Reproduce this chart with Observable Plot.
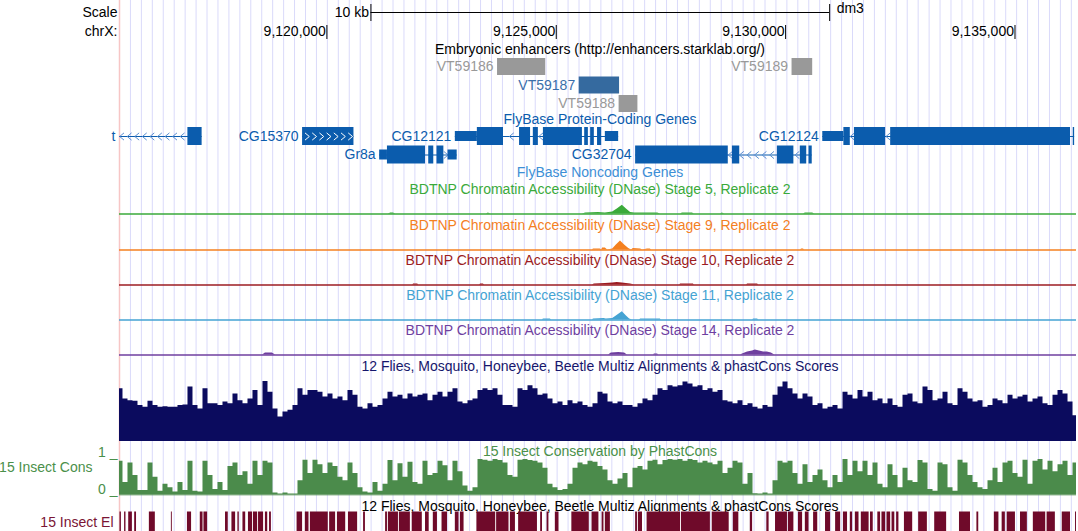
<!DOCTYPE html>
<html><head><meta charset="utf-8">
<script src="https://cdn.jsdelivr.net/npm/d3@7"></script>
<script src="https://cdn.jsdelivr.net/npm/@observablehq/plot@0.6"></script>
<style>
body{margin:0;background:#fff}
#chart{width:1078px;height:531px;overflow:hidden;background:#fff}
#chart svg{display:block}
</style></head><body><div id="chart"></div>
<script>
// ---------------- data (genomic positions in kb on chrX, dm3) ----------------
const viewKb = [9115.479, 9136.341];
const positionTicks = [9120000, 9125000, 9130000, 9135000];
const scaleBarKb = [9120.96, 9130.96];
const scaleBarLabel = "10 kb";
const assembly = "dm3";
const chromLabel = "chrX:";

const enhancerTrackTitle = "Embryonic enhancers (http://enhancers.starklab.org/)";
const enhancerNames = ["VT59186", "VT59187", "VT59188", "VT59189"];
const enhancerStartKb = [9123.72, 9125.50, 9126.37, 9130.14];
const enhancerEndKb = [9124.77, 9126.38, 9126.78, 9130.59];
const enhancerRow = [0, 1, 2, 0];
const enhancerActive = [false, true, false, false];

const geneTrackTitle = "FlyBase Protein-Coding Genes";
const noncodingTrackTitle = "FlyBase Noncoding Genes";
const geneNames = ["t", "CG15370", "CG12121", "CG12124", "Gr8a", "CG32704"];
const geneStrand = ["-", "+", "-", "-", "+", "-"];
const geneRow = [0, 0, 0, 0, 1, 1];
const geneStartKb = [9115.30, 9119.47, 9122.80, 9130.81, 9121.15, 9126.73];
const geneEndKb = [9117.28, 9120.59, 9126.36, 9136.30, 9122.84, 9130.58];
const geneInnerArrows = [false, true, false, false, false, false];
const geneExonsKb = [
  [[9116.97, 9117.28, "cds"]],
  [[9119.47, 9120.59, "cds"]],
  [[9122.80, 9123.28, "utr"], [9123.28, 9123.85, "cds"], [9124.20, 9124.44, "cds"], [9124.50, 9124.61, "cds"],
   [9124.72, 9125.57, "cds"], [9125.62, 9125.70, "cds"], [9125.75, 9125.83, "cds"], [9125.90, 9125.99, "cds"],
   [9126.07, 9126.36, "utr"]],
  [[9130.81, 9131.27, "utr"], [9131.27, 9131.41, "cds"], [9131.50, 9132.18, "cds"], [9132.29, 9136.21, "cds"],
   [9136.27, 9136.30, "cds"]],
  [[9121.15, 9121.32, "utr"], [9121.32, 9122.15, "cds"], [9122.22, 9122.33, "cds"], [9122.40, 9122.55, "cds"],
   [9122.64, 9122.84, "utr"]],
  [[9126.73, 9128.75, "cds"], [9128.84, 9129.00, "cds"], [9129.82, 9130.18, "cds"], [9130.32, 9130.46, "cds"],
   [9130.51, 9130.58, "cds"]]
];

const dnaseStages = ["Stage 5", "Stage 9", "Stage 10", "Stage 11", "Stage 14"];
const dnasePosKb = [
  [9115.48, 9121.34, 9121.39, 9121.45, 9121.50, 9123.48, 9123.52, 9123.57, 9125.57, 9125.64, 9125.92, 9126.07, 9126.23, 9126.33, 9126.44, 9126.53, 9126.62, 9126.71, 9127.21, 9127.27, 9127.71, 9127.75, 9127.97, 9128.01, 9128.58, 9128.62, 9128.67, 9130.39, 9130.43, 9130.59, 9130.63, 9136.34],
  [9115.48, 9125.79, 9125.81, 9125.96, 9125.99, 9126.01, 9126.07, 9126.12, 9126.23, 9126.31, 9126.40, 9126.49, 9126.58, 9126.64, 9126.68, 9126.84, 9126.88, 9126.99, 9127.05, 9127.08, 9130.32, 9130.35, 9130.39, 9130.41, 9136.34],
  [9115.48, 9121.87, 9121.89, 9121.98, 9122.00, 9123.33, 9123.35, 9123.41, 9123.44, 9125.79, 9125.83, 9126.07, 9126.23, 9126.33, 9126.44, 9126.62, 9126.71, 9127.69, 9127.71, 9127.99, 9128.01, 9129.15, 9129.17, 9129.39, 9129.41, 9136.34],
  [9115.48, 9124.70, 9124.72, 9124.87, 9124.90, 9125.79, 9125.81, 9126.04, 9126.09, 9126.23, 9126.31, 9126.44, 9126.53, 9126.60, 9126.66, 9126.81, 9126.84, 9127.27, 9127.29, 9129.28, 9129.30, 9129.39, 9129.41, 9136.34],
  [9115.48, 9118.60, 9118.66, 9118.81, 9118.88, 9126.14, 9126.20, 9126.36, 9126.49, 9126.55, 9127.12, 9127.14, 9127.21, 9127.23, 9129.02, 9129.06, 9129.17, 9129.28, 9129.34, 9129.43, 9129.52, 9129.60, 9129.69, 9129.76, 9136.34]
];
const dnaseSignal = [
  [0, 0, 1, 1, 0, 0, 1, 0, 0, 1, 1.5, 1, 2, 5, 8.7, 5, 1.5, 1, 1, 0, 0, 1, 1, 0, 0, 1, 0, 0, 1, 1, 0, 0],
  [0, 0, 1, 1, 0, 2, 2, 0, 1, 5, 9, 5, 1.5, 0, 1.5, 1, 0, 1, 1, 0, 0, 1, 1, 0, 0],
  [0, 0, 1, 1, 0, 0, 1, 1, 0, 0, 1, 1.5, 2, 2.5, 2, 1, 0, 0, 1, 1, 0, 0, 1, 1, 0, 0],
  [0, 0, 1, 1, 0, 0, 1, 1.5, 1, 1.5, 4, 8.3, 4, 1, 0, 0, 1, 1, 0, 0, 1, 1, 0, 0],
  [0, 0, 2, 2, 0, 0, 2, 2.5, 2, 0, 0, 1, 1, 0, 0, 1, 3, 4, 5, 4, 3, 3, 2, 0, 0]
];

const multizTitle = "12 Flies, Mosquito, Honeybee, Beetle Multiz Alignments & phastCons Scores";
const binStartKb = 9115.446, binSizeKb = 0.109;
const multizScores = [
  0.88,0.71,0.68,0.67,0.60,0.57,0.67,0.60,0.57,0.58,0.57,0.57,0.60,0.61,0.91,0.60,0.54,0.88,0.63,0.63,0.60,0.66,0.63,0.79,
  0.68,0.63,0.71,0.85,0.60,1.00,0.82,0.54,0.41,0.49,0.52,0.60,0.88,0.77,0.85,0.85,0.82,0.74,0.79,0.71,0.74,0.68,0.85,0.77,
  0.57,0.54,0.63,0.57,0.60,0.71,0.82,0.74,0.77,0.71,0.79,0.74,0.77,0.79,0.68,0.77,0.82,0.74,0.82,0.88,0.66,0.63,0.68,0.71,
  0.85,0.88,0.85,0.88,0.77,0.60,0.60,0.57,0.88,0.85,0.93,0.88,0.77,0.79,0.71,0.63,0.66,0.60,0.68,0.63,0.66,0.60,0.57,0.63,
  0.82,0.79,0.66,0.63,0.66,0.60,0.60,0.57,0.63,0.71,0.68,0.77,0.88,0.85,0.93,0.91,0.93,0.99,0.96,0.91,0.93,0.85,0.88,0.82,
  0.85,0.68,0.66,0.63,0.68,0.60,0.63,0.57,0.54,0.60,0.57,0.77,0.91,0.99,0.88,0.79,0.71,0.79,0.74,0.60,0.63,0.54,0.57,0.60,
  0.54,0.82,0.77,0.71,0.85,0.74,0.82,0.68,0.71,0.63,0.71,0.60,0.57,0.77,0.79,0.66,0.63,0.91,0.85,0.68,0.71,0.82,0.63,0.60,
  0.88,0.82,0.71,0.66,0.68,0.57,0.60,0.71,0.68,0.63,0.77,0.71,0.74,0.77,0.66,0.71,0.74,0.63,0.60,0.77,0.85,0.79,0.66,0.43
];

const consTitle = "15 Insect Conservation by PhastCons";
const consLabel = "15 Insect Cons";
const consScores = [
  0.95,0.35,0.90,0.55,0.12,0.12,0.90,0.50,0.10,0.30,0.20,0.08,0.35,0.12,0.95,0.10,0.08,0.95,0.55,0.15,0.35,0.12,0.80,0.90,
  0.55,0.65,0.30,0.95,0.55,0.95,0.90,0.05,0.02,0.05,0.02,0.02,0.40,0.98,0.60,0.98,0.85,0.60,0.90,0.80,0.50,0.40,0.90,0.60,
  0.20,0.08,0.05,0.35,0.10,0.30,0.97,0.40,0.88,0.50,0.92,0.35,0.30,0.95,0.55,0.60,0.95,0.82,0.40,0.95,0.65,0.25,0.10,0.20,
  1.00,0.98,0.95,1.00,0.97,0.90,0.55,0.50,0.98,1.00,0.97,0.95,0.90,0.75,0.30,0.20,0.12,0.15,0.30,0.75,0.90,0.85,0.95,0.92,
  0.80,0.70,0.40,0.30,0.45,0.60,0.20,0.75,0.80,0.70,0.95,0.98,0.85,0.97,1.00,0.98,1.00,0.95,1.00,0.97,0.90,0.95,0.90,0.85,
  0.95,0.60,0.75,0.95,0.90,0.30,0.60,0.03,0.02,0.05,0.02,0.40,0.95,0.90,0.95,0.60,0.30,0.85,0.35,0.55,0.70,0.40,0.20,0.55,
  0.35,1.00,0.55,0.95,0.65,0.95,0.55,0.90,0.30,0.20,0.85,0.55,0.20,0.75,0.40,0.35,0.97,0.90,0.15,0.10,0.90,0.85,0.20,0.10,
  0.98,0.90,0.55,0.35,0.20,0.15,0.40,0.75,0.35,0.90,0.95,0.60,0.50,0.98,0.30,0.95,1.00,0.70,0.95,0.65,0.85,0.95,0.55,0.90
];

const elementsLabel = "15 Insect El";
const elementStartKb = [9115.49,9115.59,9115.68,9115.81,9116.13,9116.61,9116.96,9117.24,9117.32,9117.79,9117.93,9118.06,9118.17,9118.29,9118.40,9118.51,9118.66,9118.75,9119.35,9119.53,9119.64,9120.06,9120.23,9120.47,9120.80,9121.28,9121.34,9121.58,9121.86,9122.15,9122.32,9122.51,9122.80,9122.91,9123.27,9123.70,9124.00,9124.18,9124.66,9124.80,9124.98,9125.34,9125.78,9126.00,9126.07,9126.73,9126.79,9126.98,9127.73,9128.40,9128.86,9129.23,9129.59,9129.78,9130.06,9130.28,9130.43,9130.61,9130.87,9131.09,9131.26,9131.41,9131.52,9131.65,9131.85,9132.01,9132.10,9132.21,9132.32,9132.42,9132.59,9132.90,9133.25,9133.79,9134.17,9134.55,9134.72,9134.83,9135.12,9135.40,9135.70,9136.03,9136.32];
const elementEndKb = [9115.52,9115.62,9115.76,9115.85,9116.26,9116.63,9117.05,9117.30,9117.40,9117.85,9118.01,9118.09,9118.23,9118.38,9118.49,9118.62,9118.71,9118.79,9119.47,9119.61,9120.03,9120.19,9120.41,9120.67,9120.84,9121.32,9121.56,9121.82,9122.08,9122.23,9122.41,9122.63,9122.88,9122.99,9123.68,9123.97,9124.11,9124.59,9124.70,9124.84,9125.06,9125.72,9125.93,9126.04,9126.18,9126.77,9126.88,9127.71,9128.36,9128.77,9128.98,9129.28,9129.64,9130.04,9130.18,9130.37,9130.51,9130.70,9130.98,9131.20,9131.35,9131.46,9131.60,9131.82,9131.91,9132.07,9132.18,9132.29,9132.38,9132.47,9132.77,9133.09,9133.51,9134.03,9134.21,9134.65,9134.79,9135.01,9135.27,9135.67,9135.88,9136.21,9136.36];

// ---------------- styling ----------------
const FONT = "'Liberation Sans', Arimo, Arial, Helvetica, sans-serif";
const FS = 14;
const W = 1078, ML = 119, MR = 2;
const KB = 1000;
const X0 = viewKb[0] * KB, X1 = viewKb[1] * KB;
const GRID = "#dadafa", RED = "#f7c6c6";
const GENE = "#0b5cad", GENE_ARROW = "#5b8fd2", NONCODING = "#3d8fd6";
const ENH_GRAY = "#999999", ENH_BLUE = "#356a9f", ENH_BLUE_TXT = "#3a6eaa";
const STAGE_COLORS = ["#3aaa3a", "#f4801f", "#9c1c22", "#45a3d3", "#6f3f9f"];
const NAVY = "#0b0b5e", NAVY_TXT = "#16166c";
const GREEN = "#4b8b4b", GREEN_TXT = "#4a904a";
const MAROON = "#6f0a2a", MAROON_TXT = "#7a1535";

// guideline spacing (browser guide lines)
const gridStep = 238.5;
const gridPositions = d3.range(X0 + gridStep, X1, gridStep);

const chevron = (dir) => ({
  draw(ctx, size) {
    const r = Math.sqrt(size / Math.PI);
    const w = r * 0.6 * dir;
    ctx.moveTo(w, -r); ctx.lineTo(-w, 0); ctx.lineTo(w, r);
  }
});
const LEFT = chevron(1), RIGHT = chevron(-1);

const base = (height, y, marks) => Plot.plot({
  width: W, height, marginLeft: ML, marginRight: MR, marginTop: 0, marginBottom: 0,
  x: {domain: [X0, X1], axis: null},
  y: {...y, axis: null},
  color: {type: "identity"},
  style: {fontFamily: FONT, fontSize: FS + "px", background: "white", overflow: "visible"},
  marks: [
    Plot.ruleX(gridPositions, {stroke: GRID, strokeWidth: 1}),
    Plot.ruleX([X0], {stroke: RED, strokeWidth: 1.5}),
    ...marks
  ]
});
const txt = (s, o) => Plot.text([s], {text: d => d, fontSize: FS, ...o});

// ---------------- tables ----------------
const enhancers = enhancerNames.map((name, i) => ({
  name, start: enhancerStartKb[i] * KB, end: enhancerEndKb[i] * KB, row: enhancerRow[i], active: enhancerActive[i]
}));
const genes = geneNames.map((name, i) => ({
  name, strand: geneStrand[i], row: geneRow[i], start: geneStartKb[i] * KB, end: geneEndKb[i] * KB,
  inner: geneInnerArrows[i],
  exons: geneExonsKb[i].map(([s, e, t]) => ({s: s * KB, e: e * KB, type: t}))
}));
const exons = genes.flatMap(g => g.exons.map(e => ({...e, row: g.row})));
const chevrons = [];
for (const g of genes) {
  let prev = g.start;
  const gaps = [];
  for (const e of g.exons) { if (e.s > prev) gaps.push([prev, e.s]); prev = e.e; }
  if (g.end > prev) gaps.push([prev, g.end]);
  for (const [a, b] of gaps) {
    const w = b - a;
    if (w < 85) continue;
    if (w < 400) { chevrons.push({x: a + w / 2, row: g.row, strand: g.strand, inner: false}); continue; }
    for (let p = b - 120; p > a + 30; p -= 165) chevrons.push({x: p, row: g.row, strand: g.strand, inner: false});
  }
  if (g.inner) {
    for (const e of g.exons) {
      for (let p = e.s + 100; p < e.e - 40; p += 157) chevrons.push({x: p, row: g.row, strand: g.strand, inner: true});
    }
  }
}
const enhY = r => 66.5 + r * 18.5;
const geneY = r => 136 + r * 18.5;

// ---------------- header + enhancers + genes ----------------
const chart = document.getElementById("chart");
chart.append(base(180, {domain: [0, 180], range: [0, 180]}, [
  txt("Scale", {x: () => X0, y: () => 12.5, dx: -2, textAnchor: "end", fill: "black"}),
  txt(chromLabel, {x: () => X0, y: () => 31.5, dx: -2, textAnchor: "end", fill: "black"}),
  Plot.ruleY([12], {x1: () => scaleBarKb[0] * KB, x2: () => scaleBarKb[1] * KB, stroke: "black"}),
  Plot.ruleX(scaleBarKb.map(k => k * KB), {y1: () => 4, y2: () => 21, stroke: "black"}),
  txt(scaleBarLabel, {x: () => scaleBarKb[0] * KB, y: () => 12.5, dx: -2, textAnchor: "end", fill: "black"}),
  txt(assembly, {x: () => scaleBarKb[1] * KB, y: () => 8.5, dx: 7, textAnchor: "start", fill: "black"}),
  Plot.ruleX(positionTicks, {y1: () => 25, y2: () => 39, stroke: "black"}),
  Plot.text(positionTicks, {x: d => d, y: () => 31.5, text: d => d3.format(",")(d), textAnchor: "end", dx: -1, fontSize: FS, fill: "black"}),

  txt(enhancerTrackTitle, {y: () => 49.5, dx: 2, fill: "black"}),
  Plot.rect(enhancers, {x1: "start", x2: "end", y1: d => enhY(d.row) - 8.5, y2: d => enhY(d.row) + 8.5,
    fill: d => d.active ? ENH_BLUE : ENH_GRAY, inset: 0}),
  Plot.text(enhancers, {x: "start", y: d => enhY(d.row), text: "name", dx: -4, textAnchor: "end", fontSize: FS,
    fill: d => d.active ? ENH_BLUE_TXT : ENH_GRAY}),

  txt(geneTrackTitle, {y: () => 119, dx: 2, fill: GENE}),
  txt(noncodingTrackTitle, {y: () => 172, dx: 2, fill: NONCODING}),
  Plot.ruleY(genes, {x1: "start", x2: "end", y: d => geneY(d.row), stroke: GENE, strokeWidth: 1, clip: true}),
  Plot.dot(chevrons.filter(c => !c.inner && c.strand === "-"), {x: "x", y: d => geneY(d.row), symbol: LEFT, r: 3.6, fill: "none", stroke: GENE_ARROW, strokeWidth: 1, clip: true}),
  Plot.dot(chevrons.filter(c => !c.inner && c.strand === "+"), {x: "x", y: d => geneY(d.row), symbol: RIGHT, r: 3.6, fill: "none", stroke: GENE_ARROW, strokeWidth: 1, clip: true}),
  Plot.rect(exons, {x1: "s", x2: "e", y1: d => geneY(d.row) - (d.type === "cds" ? 9 : 5), y2: d => geneY(d.row) + (d.type === "cds" ? 9 : 5), fill: GENE, inset: 0, clip: true}),
  Plot.dot(chevrons.filter(c => c.inner), {x: "x", y: d => geneY(d.row), symbol: RIGHT, r: 3.6, fill: "none", stroke: "white", strokeWidth: 1}),
  Plot.text(genes, {x: d => Math.max(d.start, X0), y: d => geneY(d.row), text: "name", dx: -4, textAnchor: "end", fontSize: FS, fill: GENE})
]));

// ---------------- DNase tracks ----------------
const dnaseHeights = [36, 35, 35, 35, 35];
dnaseStages.forEach((stage, i) => {
  const pts = dnasePosKb[i].map((p, j) => ({x: p * KB, v: dnaseSignal[i][j]}));
  const col = STAGE_COLORS[i];
  chart.append(base(dnaseHeights[i], {domain: [0, 20], range: [33.5, 13.5]}, [
    txt(`BDTNP Chromatin Accessibility (DNase) ${stage}, Replicate 2`, {frameAnchor: "top", lineAnchor: "middle", dy: 9.5, dx: 2, fill: col}),
    Plot.areaY(pts, {x: "x", y: "v", fill: col, curve: "linear"}),
    Plot.ruleY([0], {stroke: col, strokeWidth: 1.6})
  ]));
});

// ---------------- wiggle bins ----------------
const stepPoints = (scores) => {
  const pts = scores.map((v, i) => ({x: (binStartKb + i * binSizeKb) * KB, v}));
  pts.push({x: (binStartKb + scores.length * binSizeKb) * KB, v: scores[scores.length - 1]});
  return pts;
};

// ---------------- Multiz ----------------
chart.append(base(89, {domain: [0, 1], range: [85, 25]}, [
  txt(multizTitle, {frameAnchor: "top", lineAnchor: "middle", dy: 10, dx: 2, fill: NAVY_TXT}),
  Plot.areaY(stepPoints(multizScores), {x: "x", y: "v", fill: NAVY, curve: "step-after", clip: true})
]));

// ---------------- PhastCons ----------------
chart.append(base(55, {domain: [0, 1], range: [49.3, 14]}, [
  txt(consTitle, {frameAnchor: "top", lineAnchor: "middle", dy: 6, dx: 2, fill: GREEN_TXT}),
  Plot.areaY(stepPoints(consScores), {x: "x", y: "v", fill: GREEN, curve: "step-after", clip: true}),
  Plot.ruleY([0], {stroke: GREEN, strokeWidth: 1}),
  txt(consLabel, {frameAnchor: "top-left", lineAnchor: "middle", dy: 21.7, dx: -27, textAnchor: "end", fill: GREEN_TXT}),
  Plot.text(["1 _"], {x: () => X0, y: () => 1, dy: -7, dx: -2, textAnchor: "end", text: d => d, fontSize: FS, fill: GREEN_TXT}),
  Plot.text(["0 _"], {x: () => X0, y: () => 0, dy: -5, dx: -2, textAnchor: "end", text: d => d, fontSize: FS, fill: GREEN_TXT})
]));

// ---------------- Conserved elements ----------------
const elements = elementStartKb.map((s, i) => ({s: s * KB, e: elementEndKb[i] * KB}));
chart.append(base(31, {domain: [0, 31], range: [0, 31]}, [
  txt(multizTitle, {y: () => 6, dx: 2, fill: "black"}),
  Plot.rect(elements, {x1: "s", x2: "e", y1: () => 11.5, y2: () => 31, fill: MAROON, inset: 0, clip: true}),
  txt(elementsLabel, {x: () => X0, y: () => 22.5, dx: -6, textAnchor: "end", fill: MAROON_TXT})
]));
</script></body></html>
